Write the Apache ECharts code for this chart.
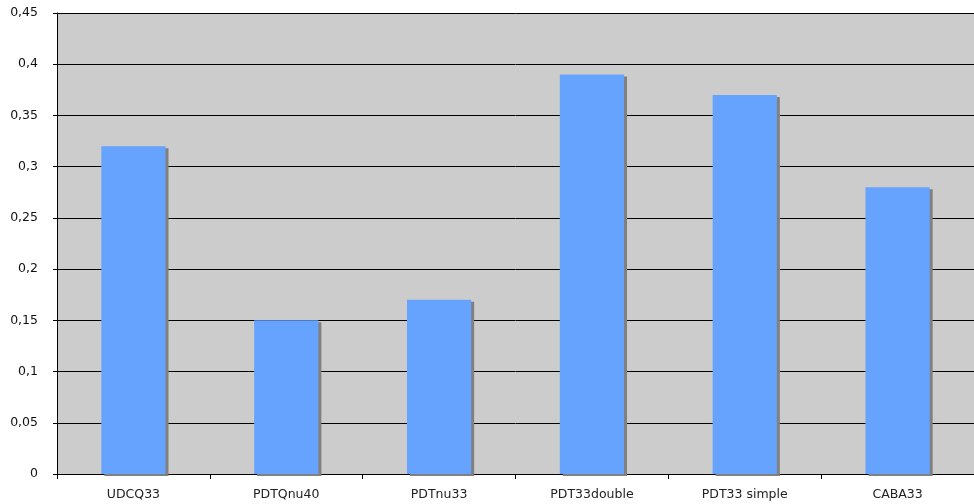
<!DOCTYPE html>
<html><head><meta charset="utf-8">
<script src="https://cdn.jsdelivr.net/npm/echarts@6/dist/echarts.min.js"></script>
<style>html,body{margin:0;padding:0;background:#fff}#c{width:974px;height:504px}</style>
</head><body><div id="c"></div>
<script>
const categories = ['UDCQ33','PDTQnu40','PDTnu33','PDT33double','PDT33 simple','CABA33'];
const values = [0.32, 0.15, 0.17, 0.39, 0.37, 0.28];
const chart = echarts.init(document.getElementById('c'));
chart.setOption({
  backgroundColor:'#ffffff',
  animation:false,
  grid:{left:57,right:0,top:13,bottom:30,show:true,backgroundColor:'#cccccc',borderWidth:0},
  xAxis:{type:'category',data:categories,
    axisLine:{lineStyle:{color:'#000',width:1}},
    axisTick:{show:true,length:5,lineStyle:{color:'#000'}},
    axisLabel:{color:'#222',fontFamily:'DejaVu Sans',fontSize:12.5,margin:14}},
  yAxis:{type:'value',min:0,max:0.45,interval:0.05,
    axisLine:{show:true,lineStyle:{color:'#000'}},
    axisTick:{show:true,length:4,lineStyle:{color:'#000'}},
    splitLine:{lineStyle:{color:'#000',width:1}},
    axisLabel:{color:'#111',fontFamily:'DejaVu Sans',fontSize:12.5,margin:19,
      formatter:v=>String(Math.round(v*100)/100).replace('.',',')}},
  series:[{type:'bar',data:values,barWidth:'42%',
    itemStyle:{color:'#66a3ff',shadowColor:'#808080',shadowOffsetX:3,shadowOffsetY:2,shadowBlur:0}}]
});
</script></body></html>
